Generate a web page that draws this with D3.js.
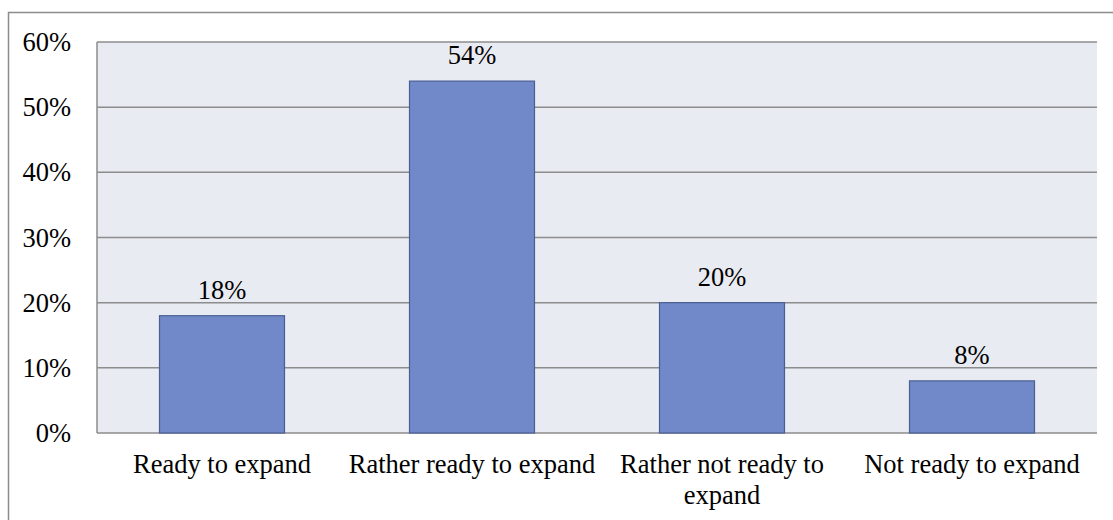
<!DOCTYPE html>
<html>
<head>
<meta charset="utf-8">
<script src="https://cdn.jsdelivr.net/npm/d3@7"></script>
<style>
  body { margin: 0; background: #fff; }
  svg text { font-family: "Liberation Serif", "Times New Roman", serif; fill: #000; }
</style>
</head>
<body>
<svg id="chart" width="1113" height="520"></svg>
<script>
// values
var categories = ["Ready to expand", "Rather ready to expand", "Rather not ready to expand", "Not ready to expand"];
var shares = [18, 54, 20, 8];
var yTicks = [0, 10, 20, 30, 40, 50, 60];

var svg = d3.select("#chart");
var margin = {left: 97, right: 16, top: 42, bottom: 87};
var width = 1113, height = 520;
var fs = 26.5;

// outer chart frame
svg.append("rect")
  .attr("x", 8.5).attr("y", 12.5)
  .attr("width", 1120).attr("height", 530)
  .attr("fill", "#fff")
  .attr("stroke", "#8c8c8c").attr("stroke-width", 1.5);

var x = d3.scaleBand()
  .domain(categories)
  .range([margin.left, width - margin.right])
  .paddingInner(0.5)
  .paddingOuter(0.25);

var y = d3.scaleLinear()
  .domain([0, 60])
  .range([height - margin.bottom, margin.top]);

// plot background
svg.append("rect")
  .attr("x", margin.left).attr("y", y(60))
  .attr("width", width - margin.right - margin.left)
  .attr("height", y(0) - y(60))
  .attr("fill", "#e9ebf3");

// gridlines
svg.append("g")
  .selectAll("line")
  .data(yTicks)
  .join("line")
  .attr("x1", margin.left).attr("x2", width - margin.right)
  .attr("y1", d => y(d)).attr("y2", d => y(d))
  .attr("stroke", "#8c8c8c").attr("stroke-width", 1.5);

// left axis line
svg.append("line")
  .attr("x1", margin.left).attr("x2", margin.left)
  .attr("y1", y(60)).attr("y2", y(0))
  .attr("stroke", "#8c8c8c").attr("stroke-width", 1.5);

// y tick labels
svg.append("g")
  .selectAll("text")
  .data(yTicks)
  .join("text")
  .attr("x", 71)
  .attr("y", d => y(d) + 9)
  .attr("text-anchor", "end")
  .attr("font-size", fs)
  .text(d => d + "%");

// bars
svg.append("g")
  .selectAll("rect")
  .data(shares)
  .join("rect")
  .attr("x", (d, i) => x(categories[i]))
  .attr("y", d => y(d))
  .attr("width", x.bandwidth())
  .attr("height", d => y(0) - y(d))
  .attr("fill", "#7189c8")
  .attr("stroke", "#4a5e93")
  .attr("stroke-width", 1.2);

// value labels
svg.append("g")
  .selectAll("text")
  .data(shares)
  .join("text")
  .attr("x", (d, i) => x(categories[i]) + x.bandwidth() / 2)
  .attr("y", d => y(d) - 17)
  .attr("text-anchor", "middle")
  .attr("font-size", fs)
  .text(d => d + "%");

// category labels, wrapped like the original
var wrapped = {"Rather not ready to expand": ["Rather not ready to", "expand"]};
var catLabels = svg.append("g")
  .selectAll("text")
  .data(categories)
  .join("text")
  .attr("x", d => x(d) + x.bandwidth() / 2)
  .attr("y", 473)
  .attr("text-anchor", "middle")
  .attr("font-size", fs);

catLabels.each(function(d) {
  var lines = wrapped[d] || [d];
  var t = d3.select(this);
  lines.forEach((ln, i) => {
    t.append("tspan")
      .attr("x", x(d) + x.bandwidth() / 2)
      .attr("dy", i === 0 ? 0 : 31)
      .text(ln);
  });
});
</script>
</body>
</html>
